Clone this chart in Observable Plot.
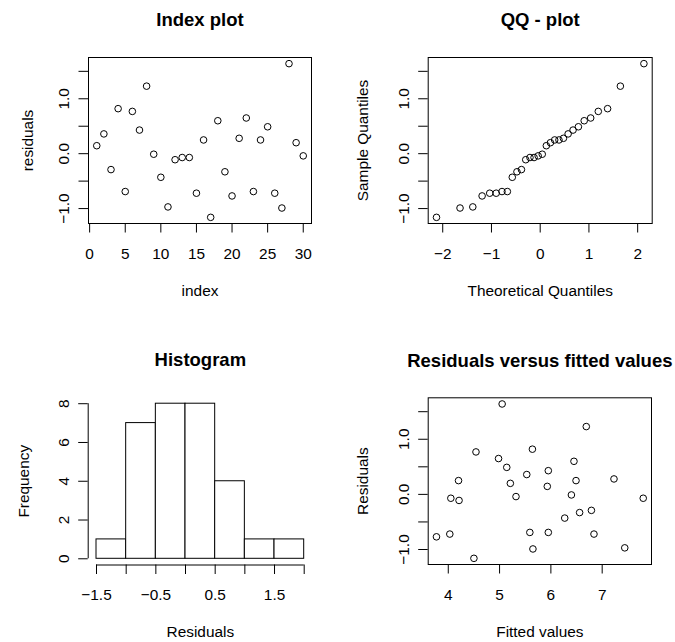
<!DOCTYPE html>
<html>
<head>
<meta charset="utf-8">
<script src="https://cdn.jsdelivr.net/npm/d3@7"></script>
<script src="https://cdn.jsdelivr.net/npm/@observablehq/plot@0.6"></script>
<style>
  html, body { margin: 0; padding: 0; background: white; }
  #wrap { position: relative; width: 675px; height: 642px; background: white; }
  #wrap > svg, #wrap > figure { position: absolute; margin: 0; }
</style>
</head>
<body>
<div id="wrap"></div>
<script>
// ---- data ----
const index = [1,2,3,4,5,6,7,8,9,10,11,12,13,14,15,16,17,18,19,20,21,22,23,24,25,26,27,28,29,30];
const residuals = [0.145, 0.36, -0.29, 0.82, -0.69, 0.77, 0.43, 1.23, -0.01, -0.43, -0.97, -0.11, -0.07, -0.07, -0.72, 0.25, -1.16, 0.60, -0.33, -0.77, 0.28, 0.65, -0.69, 0.25, 0.49, -0.72, -0.99, 1.64, 0.20, -0.04];
const fitted = [5.93, 5.53, 6.79, 5.64, 5.59, 4.54, 5.95, 6.69, 6.40, 6.27, 7.44, 4.21, 4.05, 7.80, 4.03, 4.20, 4.50, 6.45, 6.56, 3.77, 7.23, 4.98, 5.95, 6.49, 5.14, 6.84, 5.65, 5.05, 5.21, 5.32];
const theoretical = [-2.128, -1.645, -1.383, -1.192, -1.036, -0.903, -0.784, -0.674, -0.573, -0.477, -0.385, -0.297, -0.210, -0.126, -0.042, 0.042, 0.126, 0.210, 0.297, 0.385, 0.477, 0.573, 0.674, 0.784, 0.903, 1.036, 1.192, 1.383, 1.645, 2.128];
const sampleQuantiles = [-1.16, -0.99, -0.97, -0.77, -0.72, -0.72, -0.69, -0.69, -0.43, -0.33, -0.29, -0.11, -0.07, -0.07, -0.04, -0.01, 0.145, 0.20, 0.25, 0.25, 0.28, 0.36, 0.43, 0.49, 0.60, 0.65, 0.77, 0.82, 1.23, 1.64];
const breaks = [-1.5, -1, -0.5, 0, 0.5, 1, 1.5, 2];
const counts = [1, 7, 8, 8, 4, 1, 1];

// ---- tick labels ----
const indexTicks = [0, 5, 10, 15, 20, 25, 30];
const residTicks = [-1, -0.5, 0, 0.5, 1, 1.5];
const residTickLabels = ["−1.0", "", "0.0", "", "1.0", ""];
const qqTicks = [-2, -1, 0, 1, 2];
const qqTickLabels = ["−2", "−1", "0", "1", "2"];
const histXTicks = breaks;
const histXTickLabels = ["−1.5", "", "−0.5", "", "0.5", "", "1.5", ""];
const histYTicks = [0, 2, 4, 6, 8];
const fittedTicks = [4, 5, 6, 7];

// ---- helpers ----
const FONT = "Liberation Sans, Arial, Helvetica, sans-serif";
const FS = 15.4, TFS = 18.5;
const pad = ([a, b]) => { const r = (b - a) * 0.04; return [a - r, b + r]; };
const lab = (ticks, labels) => (d) => labels[ticks.indexOf(d)] ?? "";

function axisOpts(domain, ticks, labels, isY) {
  return {
    domain, ticks,
    tickFormat: lab(ticks, labels),
    tickSize: 9.5,
    tickPadding: isY ? 10 : 15,
    tickRotate: isY ? -90 : 0,
    label: null
  };
}

function panel({left, top, width, height, margins, x, y, marks, title, xlab, ylab, ylabOff}) {
  const el = Plot.plot({
    width, height,
    marginLeft: margins[0], marginRight: margins[1], marginTop: margins[2], marginBottom: margins[3],
    style: {fontFamily: FONT, fontSize: FS + "px", color: "black", background: "white", overflow: "visible"},
    x, y,
    marks: [
      ...marks,
      Plot.text([title], {frameAnchor: "top", dy: -31.3, lineAnchor: "bottom", fontWeight: "bold", fontSize: TFS, fill: "black"}),
      Plot.text([xlab], {frameAnchor: "bottom", dy: 72, lineAnchor: "bottom", fontSize: FS, fill: "black"}),
      Plot.text([ylab], {frameAnchor: "left", dx: -ylabOff, rotate: -90, lineAnchor: "bottom", textAnchor: "middle", fontSize: FS, fill: "black"})
    ]
  });
  el.style.left = left + "px";
  el.style.top = top + "px";
  document.getElementById("wrap").appendChild(el);
}

const residDomain = pad(d3.extent(residuals));

// Panel 1: index plot
panel({
  left: 0, top: 0, width: 337, height: 321,
  margins: [88, 26, 57, 98],
  x: axisOpts(pad(d3.extent(index)), indexTicks, indexTicks.map(String), false),
  y: axisOpts(residDomain, residTicks, residTickLabels, true),
  marks: [
    Plot.frame({stroke: "black", strokeWidth: 1}),
    Plot.dot(index.map((d, i) => ({x: d, y: residuals[i]})), {x: "x", y: "y", r: 3.3, stroke: "black", strokeWidth: 1, fill: "none"})
  ],
  title: "Index plot", xlab: "index", ylab: "residuals", ylabOff: 56
});

// Panel 2: QQ plot
panel({
  left: 337, top: 0, width: 338, height: 321,
  margins: [90.7, 23.3, 57, 98],
  x: axisOpts(pad(d3.extent(theoretical)), qqTicks, qqTickLabels, false),
  y: axisOpts(pad(d3.extent(sampleQuantiles)), residTicks, residTickLabels, true),
  marks: [
    Plot.frame({stroke: "black", strokeWidth: 1}),
    Plot.dot(theoretical.map((d, i) => ({x: d, y: sampleQuantiles[i]})), {x: "x", y: "y", r: 3.3, stroke: "black", strokeWidth: 1, fill: "none"})
  ],
  title: "QQ - plot", xlab: "Theoretical Quantiles", ylab: "Sample Quantiles", ylabOff: 60.7
});

// Panel 3: histogram
const histX = pad([breaks[0], breaks[breaks.length - 1]]);
const histY = pad([0, d3.max(counts)]);
const bins = counts.map((c, i) => ({x1: breaks[i], x2: breaks[i + 1], y: c}));
panel({
  left: 0, top: 321, width: 337, height: 321,
  margins: [87.7, 25, 76, 77.5],
  x: axisOpts(histX, histXTicks, histXTickLabels, false),
  y: axisOpts(histY, histYTicks, histYTicks.map(String), true),
  marks: [
    Plot.rectY(bins, {x1: "x1", x2: "x2", y: "y", fill: "white", stroke: "black", strokeWidth: 1}),
    Plot.ruleY([histY[0]], {x1: breaks[0], x2: breaks[breaks.length - 1], stroke: "black", strokeWidth: 1}),
    Plot.ruleX([histX[0]], {y1: histYTicks[0], y2: histYTicks[histYTicks.length - 1], stroke: "black", strokeWidth: 1})
  ],
  title: "Histogram", xlab: "Residuals", ylab: "Frequency", ylabOff: 59
});

// Panel 4: residuals vs fitted
panel({
  left: 337, top: 321, width: 338, height: 321,
  margins: [90.7, 24, 76.3, 78],
  x: axisOpts(pad(d3.extent(fitted)), fittedTicks, fittedTicks.map(String), false),
  y: axisOpts(residDomain, residTicks, residTickLabels, true),
  marks: [
    Plot.frame({stroke: "black", strokeWidth: 1}),
    Plot.dot(fitted.map((d, i) => ({x: d, y: residuals[i]})), {x: "x", y: "y", r: 3.3, stroke: "black", strokeWidth: 1, fill: "none"})
  ],
  title: "Residuals versus fitted values", xlab: "Fitted values", ylab: "Residuals", ylabOff: 60.7
});
</script>
</body>
</html>
